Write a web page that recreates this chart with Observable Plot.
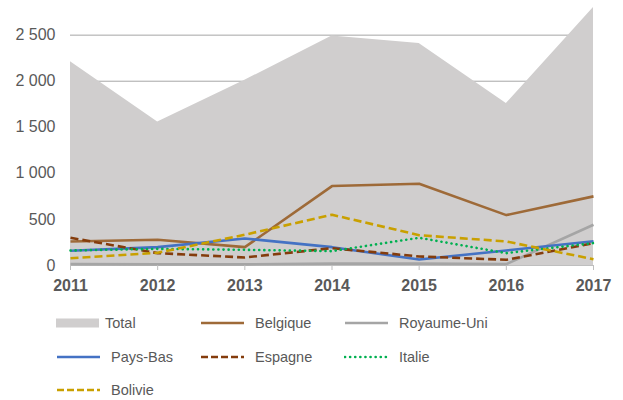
<!DOCTYPE html>
<html>
<head>
<meta charset="utf-8">
<script src="https://cdn.jsdelivr.net/npm/d3@7"></script>
<script src="https://cdn.jsdelivr.net/npm/@observablehq/plot@0.6"></script>
<style>
  body { margin: 0; background: #fff; }
  #wrap { position: relative; width: 623px; height: 400px; overflow: hidden; }
  #legend { position: absolute; left: 0; top: 300px; width: 623px; height: 100px; }
  .item { position: absolute; display: flex; align-items: center; font-family: "Liberation Sans", Arial, sans-serif; font-size: 14.5px; color: #595959; }
  .item svg { display: block; }
</style>
</head>
<body>
<div id="wrap"><div id="chart"></div><div id="legend"></div></div>
<script>
const years = [2011, 2012, 2013, 2014, 2015, 2016, 2017];
const total      = [2210, 1558, 2010, 2490, 2410, 1758, 2800];
const belgique   = [261, 279, 199, 862, 888, 547, 750];
const royaumeUni = [15, 12, 12, 20, 20, 15, 442];
const paysBas    = [160, 199, 293, 199, 65, 163, 264];
const espagne    = [301, 134, 87, 188, 98, 62, 243];
const italie     = [163, 181, 170, 156, 301, 134, 243];
const bolivie    = [79, 138, 334, 551, 329, 261, 68];
const yTicks = [0, 500, 1000, 1500, 2000, 2500];

const series = [
  {name: "Belgique", values: belgique, stroke: "#9e6a38", dash: null},
  {name: "Royaume-Uni", values: royaumeUni, stroke: "#a5a5a5", dash: null},
  {name: "Pays-Bas", values: paysBas, stroke: "#4472c4", dash: null},
  {name: "Espagne", values: espagne, stroke: "#843c0c", dash: "8,4"},
  {name: "Italie", values: italie, stroke: "#00b050", dash: "0.1,5"},
  {name: "Bolivie", values: bolivie, stroke: "#c9a000", dash: "8,4"}
];

const totalData = years.map((y, i) => ({year: y, value: total[i]}));
const fmt = d => d3.format(",")(d).replace(/,/g, " ");

const lineMarks = series.map(s => Plot.line(years.map((y, i) => ({year: y, value: s.values[i]})), {
  x: "year", y: "value", stroke: s.stroke, strokeWidth: 2.6,
  strokeDasharray: s.dash, strokeLinecap: s.name === "Italie" ? "round" : "butt",
  strokeLinejoin: "round"
}));

const chart = Plot.plot({
  width: 623,
  height: 300,
  marginTop: 7,
  marginBottom: 35,
  marginLeft: 70,
  marginRight: 30,
  style: {fontFamily: "Liberation Sans, Arial, sans-serif", fontSize: "16px", color: "#595959", background: "#fff"},
  x: {domain: [2011, 2017], ticks: years, tickFormat: d => String(d), label: null},
  y: {domain: [0, 2800], ticks: yTicks, tickFormat: fmt, label: null},
  marks: [
    Plot.gridY(yTicks.filter(d => d > 0), {stroke: "#a6a6a6", strokeOpacity: 1, strokeWidth: 1}),
    Plot.areaY(totalData, {x: "year", y: "value", fill: "#d0cece"}),
    Plot.ruleY([0], {stroke: "#bfbfbf", strokeWidth: 1}),
    ...lineMarks,
    Plot.axisY({ticks: yTicks, tickFormat: fmt, tickSize: 0, tickPadding: 15, fill: "#595959", fontSize: 16, label: null}),
    Plot.axisX({ticks: years, tickFormat: d => String(d), tickSize: 5, tickPadding: 9, stroke: "#bfbfbf", fill: "#595959", fontWeight: "bold", fontSize: 16, label: null})
  ]
});
document.getElementById("chart").appendChild(chart);

const legendItems = [
  {name: "Total", type: "rect", stroke: "#d0cece", dash: null, x: 56, row: 0, gap: 5},
  {name: "Belgique", stroke: "#9e6a38", dash: null, x: 200, row: 0, gap: 11},
  {name: "Royaume-Uni", stroke: "#a5a5a5", dash: null, x: 344, row: 0, gap: 11},
  {name: "Pays-Bas", stroke: "#4472c4", dash: null, x: 56, row: 1, gap: 11},
  {name: "Espagne", stroke: "#843c0c", dash: "7,3", x: 200, row: 1, gap: 11},
  {name: "Italie", stroke: "#00b050", dash: "0.1,5", x: 344, row: 1, gap: 11},
  {name: "Bolivie", stroke: "#c9a000", dash: "7,3", x: 56, row: 2, gap: 11}
];
const rowY = [23, 57, 90];
const legend = document.getElementById("legend");
for (const it of legendItems) {
  const div = document.createElement("div");
  div.className = "item";
  div.style.left = it.x + "px";
  div.style.top = (rowY[it.row] - 11) + "px";
  div.style.height = "22px";
  const svgNS = "http://www.w3.org/2000/svg";
  const sw = document.createElementNS(svgNS, "svg");
  sw.setAttribute("width", 44); sw.setAttribute("height", 12);
  if (it.type === "rect") {
    const r = document.createElementNS(svgNS, "rect");
    r.setAttribute("x", 0); r.setAttribute("y", 1.5); r.setAttribute("width", 43); r.setAttribute("height", 9);
    r.setAttribute("fill", it.stroke);
    sw.appendChild(r);
  } else {
    const l = document.createElementNS(svgNS, "line");
    l.setAttribute("x1", 1); l.setAttribute("x2", 44); l.setAttribute("y1", 6); l.setAttribute("y2", 6);
    l.setAttribute("stroke", it.stroke); l.setAttribute("stroke-width", 2.6);
    if (it.dash) l.setAttribute("stroke-dasharray", it.dash);
    if (it.name === "Italie") l.setAttribute("stroke-linecap", "round");
    sw.appendChild(l);
  }
  div.appendChild(sw);
  const t = document.createElement("span");
  t.textContent = it.name;
  t.style.marginLeft = it.gap + "px";
  div.appendChild(t);
  legend.appendChild(div);
}
</script>
</body>
</html>
